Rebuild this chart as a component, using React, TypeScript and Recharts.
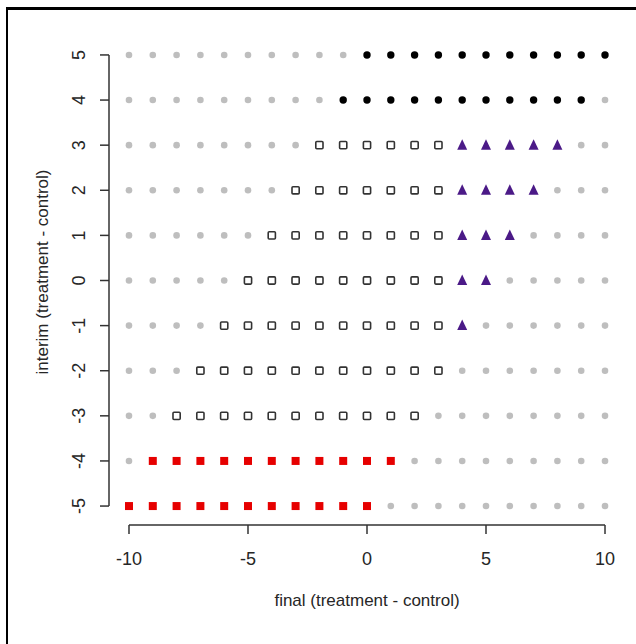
import { ScatterChart, Scatter, XAxis, YAxis, ReferenceLine } from "recharts";

// x runs -10..10, one char per column; rows from interim = 5 down to -5
// . gray (no decision)  b black  o open square  t purple triangle  r red square
const xValues = [-10, -9, -8, -7, -6, -5, -4, -3, -2, -1, 0, 1, 2, 3, 4, 5, 6, 7, 8, 9, 10];
const yValues = [5, 4, 3, 2, 1, 0, -1, -2, -3, -4, -5];
const rows = [
  "..........bbbbbbbbbbb",
  ".........bbbbbbbbbbb.",
  "........oooooottttt..",
  ".......oooooootttt...",
  "......oooooooottt....",
  ".....ooooooooott.....",
  "....oooooooooot......",
  "...ooooooooooo.......",
  "..ooooooooooo........",
  ".rrrrrrrrrrr.........",
  "rrrrrrrrrrr..........",
];
const xTicks = [-10, -5, 0, 5, 10];
const yTicks = [-5, -4, -3, -2, -1, 0, 1, 2, 3, 4, 5];

type Pt = { x: number; y: number };

function pointsFor(code: string): Pt[] {
  const out: Pt[] = [];
  rows.forEach((row, i) => {
    row.split("").forEach((c, j) => {
      if (c === code) out.push({ x: xValues[j], y: yValues[i] });
    });
  });
  return out;
}

const grayPts = pointsFor(".");
const blackPts = pointsFor("b");
const openPts = pointsFor("o");
const triPts = pointsFor("t");
const redPts = pointsFor("r");

const FONT = "'Liberation Sans', Arial, sans-serif";
const INK = "#262626";

const GrayDot = (p: any) => <circle cx={p.cx} cy={p.cy} r={3.3} fill="#bebebe" />;
const BlackDot = (p: any) => <circle cx={p.cx} cy={p.cy} r={3.7} fill="#000" />;
const OpenSquare = (p: any) => (
  <rect x={p.cx - 3.6} y={p.cy - 3.6} width={7.2} height={7.2} rx={1} fill="none" stroke="#333" strokeWidth={1.6} />
);
const RedSquare = (p: any) => (
  <rect x={p.cx - 4} y={p.cy - 4} width={8} height={8} fill="#e60000" />
);
const Triangle = (p: any) => (
  <polygon
    points={`${p.cx},${p.cy - 6} ${p.cx - 5},${p.cy + 4.5} ${p.cx + 5},${p.cy + 4.5}`}
    fill="#4b1a87"
  />
);

const XTick = ({ x, y, payload }: any) => (
  <text x={x} y={y} dy="0.71em" textAnchor="middle" fontSize={18} fill={INK} fontFamily={FONT}>
    {payload.value}
  </text>
);

const YTick = ({ x, y, payload }: any) => (
  <text x={x} y={y} transform={`rotate(-90, ${x}, ${y})`} textAnchor="middle" fontSize={18} fill={INK} fontFamily={FONT}>
    {payload.value}
  </text>
);

export default function App() {
  return (
    <div style={{ position: "absolute", left: 0, top: 0, width: 636, height: 644, background: "#fff" }}>
      <div style={{ position: "absolute", left: 6, top: 7, width: 2, height: 637, background: "#000" }} />
      <div style={{ position: "absolute", left: 6, top: 7, width: 630, height: 2.5, background: "#000" }} />
      <ScatterChart width={636} height={644} margin={{ top: 36, right: 11, left: 0, bottom: 0 }}>
        <XAxis
          type="number"
          dataKey="x"
          domain={[-10.84, 10.84]}
          ticks={xTicks}
          allowDataOverflow
          axisLine={false}
          tickSize={9}
          tickMargin={18}
          tickLine={{ stroke: "#333", strokeWidth: 1.5 }}
          tick={<XTick />}
          height={119}
        />
        <YAxis
          type="number"
          dataKey="y"
          domain={[-5.42, 5.42]}
          ticks={yTicks}
          allowDataOverflow
          axisLine={false}
          tickSize={9}
          tickMargin={15}
          tickLine={{ stroke: "#333", strokeWidth: 1.5 }}
          tick={<YTick />}
          width={109}
        />
        <ReferenceLine
          segment={[{ x: -10, y: -5.42 }, { x: 10, y: -5.42 }]}
          stroke="#333"
          strokeWidth={1.5}
          ifOverflow="visible"
        />
        <ReferenceLine
          segment={[{ x: -10.84, y: -5 }, { x: -10.84, y: 5 }]}
          stroke="#333"
          strokeWidth={1.5}
          ifOverflow="visible"
        />
        <Scatter data={grayPts} shape={GrayDot} isAnimationActive={false} />
        <Scatter data={blackPts} shape={BlackDot} isAnimationActive={false} />
        <Scatter data={openPts} shape={OpenSquare} isAnimationActive={false} />
        <Scatter data={triPts} shape={Triangle} isAnimationActive={false} />
        <Scatter data={redPts} shape={RedSquare} isAnimationActive={false} />
        <text x={367} y={606} textAnchor="middle" fontSize={17} fill={INK} fontFamily={FONT}>
          final (treatment - control)
        </text>
        <text x={48} y={272} transform="rotate(-90, 48, 272)" textAnchor="middle" fontSize={17} fill={INK} fontFamily={FONT}>
          interim (treatment - control)
        </text>
      </ScatterChart>
    </div>
  );
}
